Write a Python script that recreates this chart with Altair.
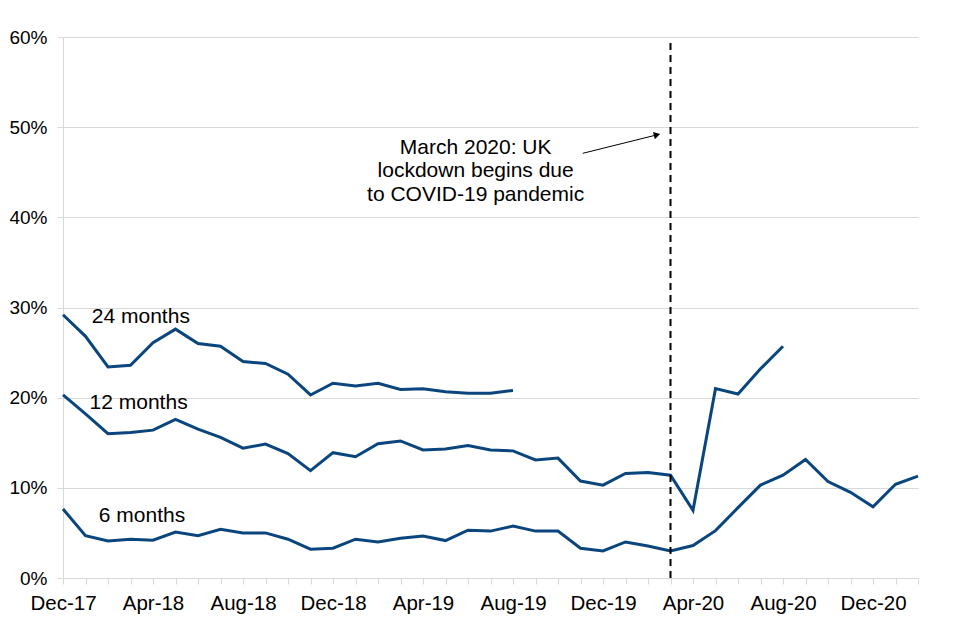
import json
import altair as alt
import pandas as pd

# ---- data ----
months = [
    "Dec-17", "Jan-18", "Feb-18", "Mar-18", "Apr-18", "May-18", "Jun-18", "Jul-18",
    "Aug-18", "Sep-18", "Oct-18", "Nov-18", "Dec-18", "Jan-19", "Feb-19", "Mar-19",
    "Apr-19", "May-19", "Jun-19", "Jul-19", "Aug-19", "Sep-19", "Oct-19", "Nov-19",
    "Dec-19", "Jan-20", "Feb-20", "Mar-20", "Apr-20", "May-20", "Jun-20", "Jul-20",
    "Aug-20", "Sep-20", "Oct-20", "Nov-20", "Dec-20", "Jan-21", "Feb-21",
]
label_step = 4

six_months = [7.65, 4.7, 4.1, 4.3, 4.2, 5.1, 4.7, 5.4, 5.0, 5.0, 4.3, 3.2, 3.3, 4.3,
              4.0, 4.4, 4.65, 4.15, 5.3, 5.2, 5.75, 5.2, 5.2, 3.3, 3.0, 4.0, 3.55,
              3.0, 3.6, 5.25, 7.8, 10.3, 11.4, 13.15, 10.7, 9.5, 7.9, 10.4, 11.3]
twelve_months = [20.3, 18.2, 16.0, 16.15, 16.4, 17.6, 16.5, 15.6, 14.4, 14.85, 13.8,
                 11.9, 13.9, 13.45, 14.9, 15.2, 14.2, 14.3, 14.7, 14.2, 14.1, 13.1,
                 13.3, 10.75, 10.3, 11.6, 11.7, 11.4, 7.5, 21.0, 20.4, 23.2, 25.7]
twentyfour_months = [29.2, 26.8, 23.4, 23.6, 26.1, 27.6, 26.0, 25.7, 24.0, 23.8, 22.6,
                     20.3, 21.6, 21.3, 21.6, 20.9, 21.0, 20.65, 20.5, 20.5, 20.8]

series_names = ["6 months", "12 months", "24 months"]
series_label_x = [3.51, 3.36, 3.46]
series_label_y = [6.25, 18.7, 28.3]

event_month = "Mar-20"
annotation_lines = ["March 2020: UK", "lockdown begins due", "to COVID-19 pandemic"]
annotation_x = [18.34, 18.34, 18.34]
annotation_y = [47.0, 44.45, 41.8]
arrow_start = (23.1, 47.1)
arrow_end = (26.4, 49.15)
arrow_head_angle = 346

line_color = "#0A467D"
grid_color = "#D9D9D9"
font = "Liberation Sans"

# ---- tables ----
rows = []
for name, vals in zip(series_names, [six_months, twelve_months, twentyfour_months]):
    for i, v in enumerate(vals):
        rows.append({"idx": i, "month": months[i], "value": v / 100, "series": name})
df = pd.DataFrame(rows)

labels_df = pd.DataFrame({
    "text": series_names,
    "x": series_label_x,
    "y": [v / 100 for v in series_label_y],
})
ann_df = pd.DataFrame({
    "text": annotation_lines,
    "x": annotation_x,
    "y": [v / 100 for v in annotation_y],
})
event_idx = months.index(event_month)
event_df = pd.DataFrame({"x": [event_idx], "y0": [0.0], "y1": [0.596]})
arrow_df = pd.DataFrame({
    "x": [arrow_start[0]], "y": [arrow_start[1] / 100],
    "x2": [arrow_end[0]], "y2": [arrow_end[1] / 100],
})
head_df = pd.DataFrame({"x": [arrow_end[0]], "y": [arrow_end[1] / 100]})

n = len(months)
x_scale = alt.Scale(domain=[0, n - 1], nice=False, zero=False)
y_scale = alt.Scale(domain=[0, 0.6], nice=False)

label_expr = (
    f"datum.value % {label_step} == 0 ? {json.dumps(months)}[datum.value] : ''"
)

x_axis = alt.Axis(
    values=list(range(n)), labelExpr=label_expr, title=None, grid=False,
    tickSize=6, tickColor=grid_color, domainColor=grid_color, labelPadding=9,
    labelOverlap=False, labelFlush=False, labelFontSize=20.5, labelFont=font,
    labelColor="black",
)
y_axis = alt.Axis(
    values=[0, 0.1, 0.2, 0.3, 0.4, 0.5, 0.6], format=".0%", title=None,
    grid=True, gridColor=grid_color, tickSize=6, tickColor=grid_color,
    domainColor=grid_color, labelPadding=10, labelFontSize=19, labelFont=font,
    labelColor="black",
)


def X(field):
    return alt.X(field, type="quantitative", scale=x_scale, axis=x_axis)


def Y(field):
    return alt.Y(field, type="quantitative", scale=y_scale, axis=y_axis)


lines = alt.Chart(df).mark_line(color=line_color, strokeWidth=3).encode(
    x=X("idx"), y=Y("value"), detail="series:N",
)

event_rule = alt.Chart(event_df).mark_rule(
    color="black", strokeWidth=2, strokeDash=[7, 5]
).encode(x=X("x"), y=Y("y0"), y2="y1:Q")

series_text = alt.Chart(labels_df).mark_text(
    font=font, fontSize=21, color="black", align="center", baseline="alphabetic"
).encode(x=X("x"), y=Y("y"), text="text:N")

ann_text = alt.Chart(ann_df).mark_text(
    font=font, fontSize=21, color="black", align="center", baseline="alphabetic"
).encode(x=X("x"), y=Y("y"), text="text:N")

arrow_line = alt.Chart(arrow_df).mark_rule(color="black", strokeWidth=1).encode(
    x=X("x"), y=Y("y"), x2="x2:Q", y2="y2:Q",
)

arrow_head = alt.Chart(head_df).mark_point(
    shape="triangle-right", filled=True, color="black", size=55,
    angle=arrow_head_angle, opacity=1,
).encode(x=X("x"), y=Y("y"))

chart = alt.layer(
    lines, event_rule, series_text, ann_text, arrow_line, arrow_head
).properties(
    width=855,
    height=541,
    autosize=alt.AutoSizeParams(type="none"),
    padding={"left": 55, "top": 29, "right": 30, "bottom": 50},
    background="white",
).configure_view(stroke=None)

chart.save("out.html", embed_options={"renderer": "svg", "actions": False})
